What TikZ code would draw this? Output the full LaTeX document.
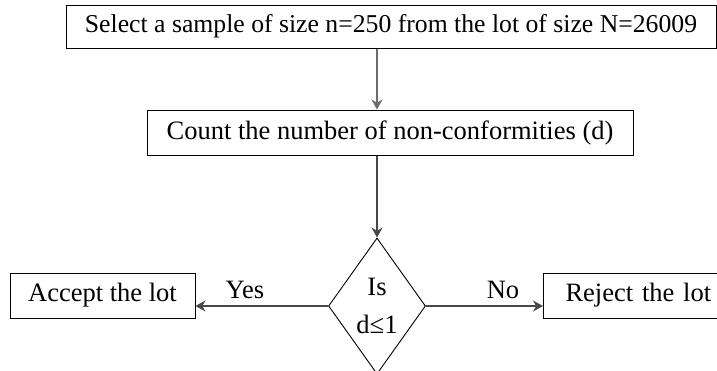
\documentclass[tikz,border=0pt]{standalone}
\usepackage{fontspec}
\setmainfont{Liberation Serif}
\usetikzlibrary{shapes.geometric,arrows.meta}
\begin{document}
\begin{tikzpicture}[x=1pt,y=-1pt,
  every node/.style={font=\fontsize{26.5}{30}\selectfont},
  box/.style={draw, line width=1pt, inner sep=0pt},
  conn/.style={line width=2.6pt, draw=black!72, -{Stealth[length=10pt,width=11pt]}},
  lbl/.style={inner sep=0pt}]
\useasboundingbox (0,0) rectangle (717,370);
\node[box, minimum width=650, minimum height=43, font=\fontsize{25.7}{30}\selectfont] (b1) at (391,26.5) {Select a sample of size n=250 from the lot of size N=26009};
\node[box, minimum width=486, minimum height=45] (b2) at (390,132.5) {Count the number of non-conformities (d)};
\node[draw, line width=0.9pt, diamond, inner sep=0pt, minimum width=97, minimum height=136, align=center] (dia) at (377,306) {Is\\[8pt]d≤1};
\node[box, minimum width=185, minimum height=45] (acc) at (102.5,295.5) {Accept the lot};
\node[box, minimum width=200, minimum height=45, anchor=west, text width=200, align=left, inner xsep=0pt] (rej) at (543,295.5) {\hspace{22pt}Reject the lot};
\draw[conn, draw=black!58] (b1.south -| dia.north) -- (b2.north -| dia.north);
\draw[conn] (b2.south -| dia.north) -- (dia.north);
\draw[conn] (dia.west) -- (dia.west -| acc.east);
\draw[conn] (dia.east) -- (dia.east -| rej.west);
\node[lbl] (yes) at (245,290) {Yes};
\node[lbl] (no) at (503,290) {No};
\end{tikzpicture}
\end{document}
